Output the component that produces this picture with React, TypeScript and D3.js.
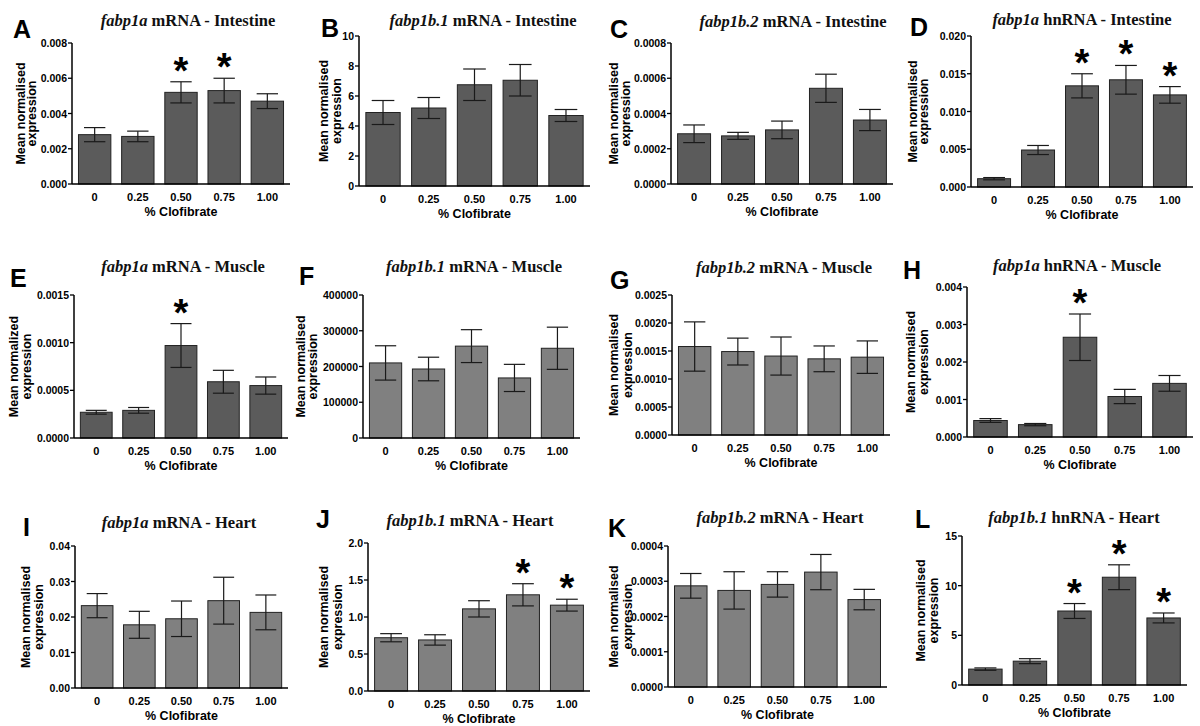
import React from "react";
import * as d3 from "d3";

const categories = ["0", "0.25", "0.50", "0.75", "1.00"];
const letters = ["A", "B", "C", "D", "E", "F", "G", "H", "I", "J", "K", "L"];
const genes = ["fabp1a", "fabp1b.1", "fabp1b.2", "fabp1a", "fabp1a", "fabp1b.1", "fabp1b.2", "fabp1a", "fabp1a", "fabp1b.1", "fabp1b.2", "fabp1b.1"];
const titleRest = [
  " mRNA - Intestine", " mRNA - Intestine", " mRNA - Intestine", " hnRNA - Intestine",
  " mRNA - Muscle", " mRNA - Muscle", " mRNA - Muscle", " hnRNA - Muscle",
  " mRNA - Heart", " mRNA - Heart", " mRNA - Heart", " hnRNA - Heart",
];
const yLabelFirst = [
  "Mean normalised", "Mean normalised", "Mean normalised", "Mean normalised",
  "Mean normalized", "Mean normalised", "Mean normalised", "Mean normalised",
  "Mean normalised", "Mean normalised", "Mean normalised", "Mean normalised",
];
const yMax = [0.008, 10, 0.0008, 0.02, 0.0015, 400000, 0.0025, 0.004, 0.04, 2.0, 0.0004, 15];
const yStep = [0.002, 2, 0.0002, 0.005, 0.0005, 100000, 0.0005, 0.001, 0.01, 0.5, 0.0001, 5];
const yFormat = [".3f", "d", ".4f", ".3f", ".4f", "d", ".4f", ".3f", ".2f", ".1f", ".4f", "d"];

const meansA = [0.0028, 0.0027, 0.0052, 0.0053, 0.0047];
const errA = [0.0004, 0.0003, 0.0006, 0.0007, 0.00042];
const meansB = [4.9, 5.2, 6.75, 7.05, 4.7];
const errB = [0.8, 0.7, 1.05, 1.05, 0.4];
const meansC = [0.000285, 0.000273, 0.000307, 0.000543, 0.000363];
const errC = [0.00005, 0.00002, 0.00005, 0.00008, 0.00006];
const meansD = [0.0011, 0.0049, 0.0134, 0.0142, 0.0122];
const errD = [0.00015, 0.0006, 0.0016, 0.0019, 0.0011];
const meansE = [0.00027, 0.00029, 0.00097, 0.00059, 0.00055];
const errE = [0.00002, 0.00003, 0.00023, 0.00012, 0.00009];
const meansF = [210000, 193000, 257000, 168000, 251000];
const errF = [48000, 33000, 46000, 38000, 59000];
const meansG = [0.00158, 0.00149, 0.00141, 0.00136, 0.00139];
const errG = [0.00044, 0.00024, 0.00034, 0.00023, 0.00029];
const meansH = [0.00044, 0.00033, 0.00266, 0.00108, 0.00143];
const errH = [0.00005, 0.00003, 0.00062, 0.00019, 0.00021];
const meansI = [0.0232, 0.0178, 0.0195, 0.0246, 0.0213];
const errI = [0.0034, 0.0038, 0.005, 0.0066, 0.0049];
const meansJ = [0.72, 0.69, 1.11, 1.3, 1.16];
const errJ = [0.055, 0.07, 0.11, 0.15, 0.08];
const meansK = [0.000287, 0.000274, 0.000291, 0.000326, 0.000248];
const errK = [0.000035, 0.000053, 0.000036, 0.00005, 0.000029];
const meansL = [1.6, 2.4, 7.45, 10.85, 6.75];
const errL = [0.12, 0.25, 0.75, 1.25, 0.5];

const starsA = [2, 3];
const starsD = [2, 3, 4];
const starsE = [2];
const starsH = [2];
const starsJ = [3, 4];
const starsL = [2, 3, 4];

const allMeans = [meansA, meansB, meansC, meansD, meansE, meansF, meansG, meansH, meansI, meansJ, meansK, meansL];
const allErr = [errA, errB, errC, errD, errE, errF, errG, errH, errI, errJ, errK, errL];
const allStars = [starsA, [], [], starsD, starsE, [], [], starsH, [], starsJ, [], starsL];

const DARK = "#5b5b5b";
const LIGHT = "#808080";
const barColors = [DARK, DARK, DARK, DARK, DARK, LIGHT, LIGHT, DARK, LIGHT, LIGHT, LIGHT, DARK];

// layout: axis x, right end, top y, bottom y, title center x, title baseline, letter x, letter baseline, ylabel offsets
const layout = [
  { x0: 72, x1: 290, yT: 43, yB: 184, tx: 188, ty: 26, lx: 13, ly: 38, l1: -52, l2: -41 },
  { x0: 359, x1: 590, yT: 36, yB: 186, tx: 483, ty: 26, lx: 321, ly: 37, l1: -36, l2: -23 },
  { x0: 671, x1: 893, yT: 43, yB: 184, tx: 793, ty: 27, lx: 610, ly: 38, l1: -58, l2: -46 },
  { x0: 971, x1: 1193, yT: 36, yB: 187, tx: 1082, ty: 25, lx: 910, ly: 36, l1: -59, l2: -48 },
  { x0: 74, x1: 288, yT: 295, yB: 438, tx: 183, ty: 272, lx: 10, ly: 287, l1: -61, l2: -48 },
  { x0: 363, x1: 580, yT: 295, yB: 438, tx: 474, ty: 272, lx: 299, ly: 285, l1: -63, l2: -51 },
  { x0: 672, x1: 890, yT: 295, yB: 435, tx: 784, ty: 273, lx: 610, ly: 289, l1: -59, l2: -45 },
  { x0: 967, x1: 1193, yT: 287, yB: 437, tx: 1077, ty: 271, lx: 903, ly: 279, l1: -57, l2: -44 },
  { x0: 75, x1: 288, yT: 546, yB: 688, tx: 179, ty: 528, lx: 23, ly: 536, l1: -50, l2: -37 },
  { x0: 368, x1: 590, yT: 543, yB: 691, tx: 470, ty: 526, lx: 316, ly: 528, l1: -45, l2: -31 },
  { x0: 668, x1: 887, yT: 546, yB: 687, tx: 780, ty: 523, lx: 608, ly: 537, l1: -55, l2: -41 },
  { x0: 962, x1: 1187, yT: 536, yB: 685, tx: 1074, ty: 523, lx: 915, ly: 528, l1: -42, l2: -29 },
];

const SANS = "'Liberation Sans', Arial, sans-serif";
const SERIF = "'Liberation Serif', 'Times New Roman', serif";

function Panel({ i }: { i: number }) {
  const L = layout[i];
  const means = allMeans[i];
  const errs = allErr[i];
  const stars = allStars[i];
  const x = d3.scaleBand<string>().domain(categories).range([L.x0, L.x1]).paddingInner(0.25).paddingOuter(0.15);
  const y = d3.scaleLinear().domain([0, yMax[i]]).range([L.yB, L.yT]);
  const ticks = d3.range(0, yMax[i] + yStep[i] / 2, yStep[i]);
  const fmt = d3.format(yFormat[i]);
  const bw = x.bandwidth();
  const cap = bw * 0.33;
  const midY = (L.yT + L.yB) / 2;
  const midX = (L.x0 + L.x1) / 2;
  return (
    <g>
      <text x={L.lx} y={L.ly} fontFamily={SANS} fontWeight="bold" fontSize={25} fill="#000">{letters[i]}</text>
      <text x={L.tx} y={L.ty} textAnchor="middle" fontFamily={SERIF} fontWeight="bold" fontSize={16.5} fill="#111">
        <tspan fontStyle="italic">{genes[i]}</tspan>
        <tspan>{titleRest[i]}</tspan>
      </text>
      {categories.map((c, k) => {
        const bx = x(c)!;
        const top = y(means[k]);
        return (
          <rect key={"b" + k} x={bx} y={top} width={bw} height={L.yB - top} fill={barColors[i]} stroke="#222" strokeWidth={1} />
        );
      })}
      {categories.map((c, k) => {
        const cx = x(c)! + bw / 2;
        const hi = y(means[k] + errs[k]);
        const lo = y(means[k] - errs[k]);
        return (
          <g key={"e" + k} stroke="#1a1a1a" strokeWidth={1.2}>
            <line x1={cx} x2={cx} y1={hi} y2={lo} />
            <line x1={cx - cap} x2={cx + cap} y1={hi} y2={hi} />
            <line x1={cx - cap} x2={cx + cap} y1={lo} y2={lo} />
          </g>
        );
      })}
      {stars.map((k) => {
        const cx = x(categories[k])! + bw / 2;
        const hi = y(means[k] + errs[k]);
        return (
          <text key={"s" + k} x={cx} y={hi + 2} textAnchor="middle" fontFamily={SANS} fontWeight="bold" fontSize={38} fill="#000">*</text>
        );
      })}
      <line x1={L.x0} x2={L.x0} y1={L.yT} y2={L.yB} stroke="#000" strokeWidth={1.5} />
      <line x1={L.x0} x2={L.x1} y1={L.yB} y2={L.yB} stroke="#000" strokeWidth={1.5} />
      {ticks.map((t, k) => (
        <g key={"t" + k}>
          <line x1={L.x0 - 4} x2={L.x0} y1={y(t)} y2={y(t)} stroke="#000" strokeWidth={1.3} />
          <text x={L.x0 - 5} y={y(t) + 4} textAnchor="end" fontFamily={SANS} fontWeight="bold" fontSize={10.5} fill="#000">{fmt(t)}</text>
        </g>
      ))}
      {categories.map((c, k) => (
        <text key={"x" + k} x={x(c)! + bw / 2} y={L.yB + 16.5} textAnchor="middle" fontFamily={SANS} fontWeight="bold" fontSize={11} fill="#000">{c}</text>
      ))}
      <text x={midX} y={L.yB + 32} textAnchor="middle" fontFamily={SANS} fontWeight="bold" fontSize={12.5} fill="#000">% Clofibrate</text>
      <text transform={`translate(${L.x0 + L.l1 + 4.7},${midY}) rotate(-90)`} textAnchor="middle" fontFamily={SANS} fontWeight="bold" fontSize={12.5} fill="#000">{yLabelFirst[i]}</text>
      <text transform={`translate(${L.x0 + L.l2 + 4.7},${midY}) rotate(-90)`} textAnchor="middle" fontFamily={SANS} fontWeight="bold" fontSize={12.5} fill="#000">expression</text>
    </g>
  );
}

export default function App() {
  return (
    <svg width={1200} height={726} style={{ position: "absolute", left: 0, top: 0, background: "#fff" }}>
      <rect x={0} y={0} width={1200} height={726} fill="#fff" />
      {letters.map((_, i) => (
        <Panel key={i} i={i} />
      ))}
    </svg>
  );
}
